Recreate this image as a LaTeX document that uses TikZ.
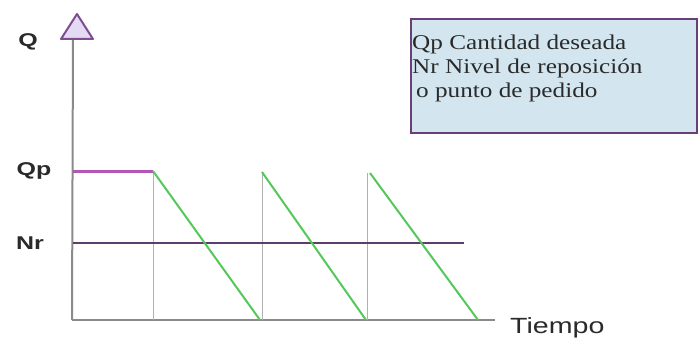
\documentclass[tikz,border=0pt]{standalone}
\usepackage{fontspec}
\newfontfamily\lblfont[FakeStretch=1.35]{Liberation Sans}
\newfontfamily\tmfont[FakeStretch=1.3]{Liberation Sans}
\newfontfamily\legfont[FakeStretch=1.2]{Liberation Serif}
\definecolor{axisgray}{HTML}{8A8A8A}
\definecolor{thingray}{HTML}{B0B0B0}
\definecolor{qpmag}{HTML}{B455B8}
\definecolor{nrpurp}{HTML}{5E3D6E}
\definecolor{tgreen}{HTML}{55C85A}
\definecolor{trifill}{HTML}{E4DAF4}
\definecolor{triedge}{HTML}{7E4E8E}
\definecolor{boxfill}{HTML}{D3E6EF}
\definecolor{boxedge}{HTML}{6A3F78}
\definecolor{txt}{HTML}{2A2A2A}
\tikzset{
  axisline/.style={draw=axisgray, line width=2pt},
  guide/.style={draw=thingray, line width=1pt},
  qpline/.style={draw=qpmag, line width=3pt},
  nrline/.style={draw=nrpurp, line width=2.4pt},
  tooth/.style={draw=tgreen, line width=2pt},
  axlbl/.style={font=\lblfont\bfseries\fontsize{18.5}{20}\selectfont, text=txt, inner sep=0pt},
  leglbl/.style={font=\legfont\fontsize{21}{24}\selectfont, text=txt, inner sep=0pt, anchor=base west}
}
\begin{document}
\begin{tikzpicture}[x=1pt,y=-1pt]
\useasboundingbox (0,0) rectangle (699,345);
% axes
\coordinate (O) at (72,320);
\coordinate (ytop) at (73,39);
\coordinate (xend) at (495,320);
\draw[axisline] (O) -- (ytop);
\draw[axisline] (O) -- (xend);
\coordinate (apex) at (77,14);
\coordinate (bl) at (61,39);
\coordinate (br) at (93,39);
\draw[draw=triedge, fill=trifill, line width=2pt, line join=round] (bl) -- (apex) -- (br) -- cycle;
% labels
\node[axlbl] (q) at (28,42) {Q};
\node[axlbl] (qp) at (34,171) {Qp};
\node[axlbl] (nr) at (30,243) {Nr};
\node[font=\tmfont\fontsize{22}{24}\selectfont, text=txt, inner sep=0pt, anchor=west] (tiempo) at (510,328) {Tiempo};
% key points
\coordinate (q0) at (73,171);
\coordinate (t1) at (153,171);
\coordinate (b1) at (260,320);
\coordinate (t2) at (262,172);
\coordinate (b2) at (366,320);
\coordinate (t3) at (370,173);
\coordinate (b3) at (478,320);
\coordinate (v1) at (153,320);
\coordinate (v2) at (262,320);
\coordinate (v3top) at (367,173);
\coordinate (v3) at (367,320);
\coordinate (n0) at (73,243);
\coordinate (n1) at (464,243);
% guides
\draw[guide] (t1) -- (v1);
\draw[guide] (t2) -- (v2);
\draw[guide] (v3top) -- (v3);
% Nr line
\draw[nrline] (n0) -- (n1);
% Qp line
\draw[qpline] (q0) -- (t1);
% teeth
\draw[tooth] (t1) -- (b1);
\draw[tooth] (t2) -- (b2);
\draw[tooth] (t3) -- (b3);
% legend
\draw[draw=boxedge, fill=boxfill, line width=2pt] (411,19) rectangle (697,133);
\node[leglbl] (l1) at (412,50) {Qp Cantidad deseada};
\node[leglbl] (l2) at (412,74) {Nr Nivel de reposición};
\node[leglbl] (l3) at (416,98) {o punto de pedido};
\end{tikzpicture}
\end{document}
